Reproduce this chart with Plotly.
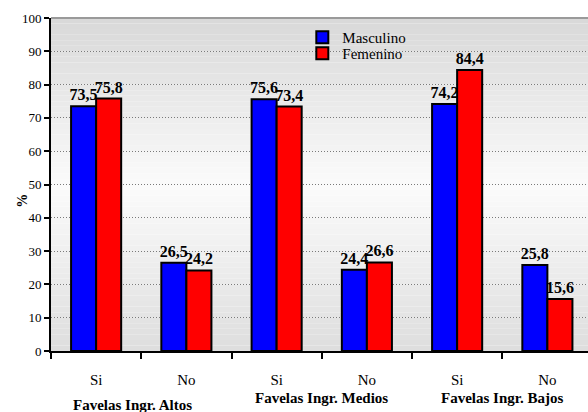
import plotly.graph_objects as go

groups = ["Favelas Ingr. Altos", "Favelas Ingr. Medios", "Favelas Ingr. Bajos"]
sub_labels = ["Si", "No", "Si", "No", "Si", "No"]
masculino = [73.5, 26.5, 75.6, 24.4, 74.2, 25.8]
femenino = [75.8, 24.2, 73.4, 26.6, 84.4, 15.6]
y_ticks = list(range(0, 101, 10))

FONT = "Liberation Serif"
xpos = list(range(len(sub_labels)))

fig = go.Figure()
for name, vals, col, leg in [("Masculino", masculino, "#0000ff", "legend"),
                             ("Femenino", femenino, "#ff0000", "legend2")]:
    fig.add_trace(go.Bar(
        x=xpos, y=vals, name=name, legend=leg,
        marker=dict(color=col, line=dict(color="black", width=2)),
        texttemplate="<b>%{y:.1f}</b>", textposition="outside",
        textfont=dict(family=FONT, size=16, color="black"),
        constraintext="none", cliponaxis=False,
    ))

# background gradient bands
n = 60
stops = [(0.0, 222), (0.5, 251), (1.0, 216)]
def shade(t):
    for (a, ca), (b, cb) in zip(stops[:-1], stops[1:]):
        if a <= t <= b:
            return round(ca + (cb - ca) * (t - a) / (b - a))
    return stops[-1][1]
shapes = []
for i in range(n):
    t0, t1 = i / n, (i + 1) / n
    c = shade((t0 + t1) / 2)
    shapes.append(dict(type="rect", xref="paper", yref="paper", x0=0, x1=1, y0=t0, y1=t1,
                       fillcolor=f"rgb({c},{c},{c})", line=dict(width=0), layer="below"))
shapes.append(dict(type="line", xref="paper", yref="paper", x0=0, x1=1, y0=1, y1=1,
                   line=dict(color="#9a9a9a", width=2), layer="below"))

annotations = []
g_off = [(-9, -54), (0, -47), (0, -47)]
for gi, g in enumerate(groups):
    annotations.append(dict(text=f"<b>{g}</b>", x=gi * 2 + 0.5, xref="x", y=0, yref="paper",
                            yshift=g_off[gi][1], xshift=g_off[gi][0], showarrow=False,
                            font=dict(family=FONT, size=15, color="black"), yanchor="middle"))
annotations.append(dict(text="<b>%</b>", x=0, xref="paper", xshift=-38, y=0.45, yref="paper",
                        textangle=-90, showarrow=False, font=dict(family=FONT, size=14, color="black")))

leg_common = dict(xanchor="left", yanchor="top", bgcolor="rgba(0,0,0,0)",
                  font=dict(family=FONT, size=15, color="black"), itemwidth=30)
fig.update_layout(
    width=588, height=412,
    margin=dict(l=51, r=0, t=18, b=61),
    paper_bgcolor="white", plot_bgcolor="rgba(0,0,0,0)",
    barmode="group", bargap=0.445, bargroupgap=0,
    separators=",.",
    shapes=shapes, annotations=annotations,
    showlegend=True,
    legend=dict(x=0.468, y=0.991, **leg_common),
    legend2=dict(x=0.468, y=0.943, **leg_common),
    font=dict(family=FONT, color="black"),
)
fig.update_xaxes(
    range=[-0.5, 5.45], tickvals=xpos, ticktext=sub_labels,
    ticks="outside", ticklen=14, tickcolor="rgba(0,0,0,0)",
    tickfont=dict(family=FONT, size=15, color="black"),
    showline=True, linecolor="black", linewidth=2, showgrid=False, zeroline=False,
    minor=dict(ticks="outside", tick0=0.5, dtick=1, ticklen=6, tickcolor="black", tickwidth=2, showgrid=False),
)
fig.update_yaxes(
    range=[0, 100], tickvals=y_ticks, ticks="outside", ticklen=5, tickcolor="black", tickwidth=2,
    tickfont=dict(family=FONT, size=13, color="black"),
    showline=True, linecolor="black", linewidth=2,
    showgrid=True, gridcolor="#7a7a7a", griddash="1px,2px", gridwidth=1, zeroline=False,
)
fig.write_html("out.html", config={"displayModeBar": False},
               post_script="document.body.style.margin='0';document.body.style.overflow='hidden';")
